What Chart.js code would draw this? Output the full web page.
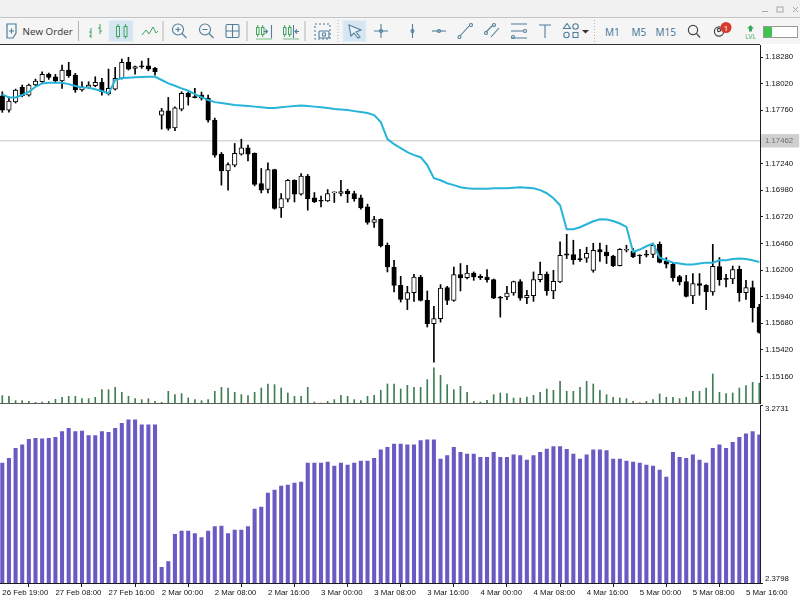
<!DOCTYPE html>
<html>
<head>
<meta charset="utf-8">
<title>EURUSD H1</title>
<script src="https://cdn.jsdelivr.net/npm/chart.js@4"></script>
<style>
html, body { margin: 0; padding: 0; width: 800px; height: 600px; overflow: hidden; background: #fff; }
#toolbar { position: absolute; left: 0; top: 0; }
#priceChart { position: absolute; left: 0; top: 44px; }
#oscChart { position: absolute; left: 0; top: 404px; }
#topLine { position: absolute; left: 0; top: 44px; width: 760px; height: 1px; background: #333; }
#paneLine { position: absolute; left: 0; top: 402.6px; width: 760px; height: 1.6px; background: #5a5f5a; }
</style>
</head>
<body>
<svg id="toolbar" width="800" height="44" font-family="'Open Sans', sans-serif">
  <rect width="800" height="44" fill="#f5f5f5"/>
  <rect width="800" height="17" fill="#f1f1f1"/>
  <rect y="17" width="800" height="1" fill="#c4c4c4"/>
  <!-- window buttons -->
  <g stroke="#a8a8a8" fill="none">
    <path d="M762 11.5h6"/>
    <rect x="777" y="7" width="6" height="5"/>
    <path d="M793 7l5 5M798 7l-5 5"/>
  </g>
  <!-- separators -->
  <g stroke="#b4b4b4">
    <path d="M78.5 21v20M163 21v20M247 21v20M305 21v20"/>
    <path d="M338 20v22M594.5 20v22" stroke-dasharray="1 2"/>
  </g>
  <!-- pressed buttons -->
  <rect x="109" y="20.5" width="24" height="21" fill="#d5e5f2" stroke="#e4eef6"/>
  <rect x="343" y="20.5" width="23" height="21" fill="#d5e5f2" stroke="#e4eef6"/>
  <!-- new order -->
  <g fill="none" stroke="#4f7f9a" stroke-width="1.2">
    <path d="M7 24h9v9l-3 5H7z"/>
    <path d="M9 31h5M11.5 28.5v5"/>
  </g>
  <text x="22.5" y="35" font-size="9.8" fill="#333">New Order</text>
  <!-- chart type buttons -->
  <g fill="none" stroke="#3ea65c" stroke-width="1">
    <path d="M91 28v10M89 32h2M89 36h2"/>
    <path d="M100 24v10M98 28h2M100 31h2"/>
    <rect x="116.5" y="26.5" width="3" height="10"/><path d="M118 24v2.5M118 36.5v2"/>
    <rect x="124" y="26.5" width="3" height="10"/><path d="M125.5 24v2.5M125.5 36.5v2"/>
    <path d="M142 35l4-5 3 4 4-7 3 6 2-2"/>
    <rect x="256.5" y="27.5" width="2.5" height="7"/><path d="M257.7 25v2.5M257.7 34.5v2.5"/>
    <rect x="261.5" y="27.5" width="2.5" height="7"/><path d="M262.7 25v2.5M262.7 34.5v2.5"/>
    <rect x="283.5" y="27.5" width="2.5" height="7"/><path d="M284.7 25v2.5M284.7 34.5v2.5"/>
    <rect x="288.5" y="27.5" width="2.5" height="7"/><path d="M289.7 25v2.5M289.7 34.5v2.5"/>
  </g>
  <g stroke="#3ea65c"><path d="M256 39h16" stroke-width="0.7"/><path d="M283 39h16" stroke-width="0.7"/></g>
  <g fill="none" stroke="#4f7f9a" stroke-width="1.1">
    <path d="M271.5 25v13M267 31.5h-3M265.5 29.5l2 2-2 2"/>
    <path d="M293.5 25v13M299 31.5h-4M297 29.5l-2 2 2 2"/>
    <circle cx="178" cy="29.5" r="5.5"/><path d="M182 33.5l4.5 4.5M175.5 29.5h5M178 27v5"/>
    <circle cx="205" cy="29.5" r="5.5"/><path d="M209 33.5l4.5 4.5M202.5 29.5h5"/>
    <rect x="226" y="24.5" width="13" height="13" rx="1.5"/><path d="M232.5 24.5v13M226 31h13"/>
    <rect x="315" y="24" width="15" height="15" stroke-dasharray="2 2"/>
    <rect x="319" y="31" width="10" height="7" rx="1"/><circle cx="324" cy="34.5" r="1.7"/>
    <path d="M349 25l12 5-5 2 4 5-2 1-4-5-3 3z" fill="#eaf3fa"/>
    <path d="M381 24v14M374 31h14"/><circle cx="381" cy="31" r="1.5"/>
    <path d="M412.5 24v14"/><circle cx="412.5" cy="31" r="1.5"/>
    <path d="M432 31h14"/><circle cx="439" cy="31" r="1.5"/>
    <path d="M460 36l9-10"/><circle cx="459.5" cy="37" r="1.5"/><circle cx="471" cy="25" r="1.5"/>
    <path d="M486 32l7-7M491 37l8-9"/><circle cx="486" cy="33" r="1.5"/><circle cx="494" cy="25" r="1.5"/>
    <path d="M511 24h16M511 31h12M511 38h16"/><circle cx="525" cy="31" r="1.5"/><circle cx="513" cy="37" r="1.5"/>
    <path d="M539 25h12M545 25v13"/>
    <path d="M567 23.5l3.5 5h-7z"/><circle cx="575.5" cy="26.5" r="2.7"/>
    <circle cx="566.5" cy="35" r="2.7"/><rect x="573" y="32.5" width="5" height="5"/>
  </g>
  <path d="M582 30h7l-3.5 3.5z" fill="#333"/>
  <g font-size="10" fill="#3d7394">
    <text x="605" y="35.5">M1</text>
    <text x="631.5" y="35.5">M5</text>
    <text x="655.5" y="35.5">M15</text>
  </g>
  <g fill="none" stroke="#444" stroke-width="1.2">
    <circle cx="693" cy="30" r="4.6"/><path d="M696.5 33.5l3.5 4"/>
    <circle cx="719" cy="31.5" r="4.6"/><circle cx="719" cy="30" r="1.6"/>
  </g>
  <circle cx="726" cy="27.5" r="5.5" fill="#d8392b"/>
  <text x="726" y="31" text-anchor="middle" font-size="8" fill="#fff">1</text>
  <path d="M750.5 25l3.5 3.5h-2v3h-3v-3h-2z" fill="#3ea65c"/>
  <text x="750.5" y="38.5" text-anchor="middle" font-size="6.5" fill="#3ea65c">LVL</text>
  <rect x="763.5" y="26.5" width="34" height="11" fill="#fff" stroke="#9a9a9a"/>
  <rect x="764" y="27" width="8" height="10" fill="#3fc24f"/>
</svg>
<canvas id="priceChart" width="800" height="360"></canvas>
<canvas id="oscChart" width="800" height="196"></canvas>
<div id="topLine"></div>
<div id="paneLine"></div>

<script>
const timeLabels = ["26 Feb 19:00", "27 Feb 08:00", "27 Feb 16:00", "2 Mar 00:00", "2 Mar 08:00",
    "2 Mar 16:00", "3 Mar 00:00", "3 Mar 08:00", "3 Mar 16:00", "4 Mar 00:00", "4 Mar 08:00",
    "4 Mar 16:00", "5 Mar 00:00", "5 Mar 08:00", "5 Mar 16:00"];
const priceTicks = [1.18280, 1.18020, 1.17760, 1.17240, 1.16980, 1.16720, 1.16460, 1.16200,
    1.15940, 1.15680, 1.15420, 1.15160];
const lastPrice = 1.17462;

const opens = [
    1.17902,1.17762,1.17843,1.17984,1.17909,1.18007,1.18039,1.18114,1.18088,1.18046,
    1.18153,1.18104,1.17958,1.17984,1.18000,1.18033,1.17919,1.17967,1.18072,1.18229,
    1.18170,1.18195,1.18195,1.18170,1.17713,1.17755,1.17589,1.17772,1.17925,1.17894,
    1.17909,1.17879,1.17664,1.17332,1.17168,1.17224,1.17332,1.17393,1.17339,1.17045,
    1.16986,1.17182,1.16806,1.16892,1.17077,1.16940,1.17117,1.16904,1.16879,1.16875,
    1.16954,1.16947,1.16970,1.16947,1.16904,1.16816,1.16664,1.16696,1.16442,1.16229,
    1.16050,1.15913,1.15979,1.16132,1.15904,1.15676,1.15725,1.16028,1.15904,1.16155,
    1.16126,1.16171,1.16138,1.16132,1.16106,1.15936,1.15936,1.15975,1.16087,1.15930,
    1.15950,1.16106,1.16158,1.15995,1.16083,1.16357,1.16351,1.16310,1.16315,1.16197,
    1.16400,1.16376,1.16337,1.16243,1.16393,1.16386,1.16344,1.16354,1.16351,1.16451,
    1.16285,1.16256,1.16136,1.16087,1.15946,1.16067,1.16050,1.15985,1.16233,1.16119,
    1.16112,1.16207,1.15979,1.16028,1.15838];
const highs = [
    1.17941,1.17889,1.17967,1.18007,1.18016,1.18065,1.18137,1.18124,1.18111,1.18202,
    1.18229,1.18121,1.18039,1.18039,1.18088,1.18072,1.18163,1.18180,1.18261,1.18278,
    1.18192,1.18241,1.18268,1.18180,1.17779,1.17886,1.17794,1.17941,1.17938,1.17974,
    1.17938,1.17909,1.17684,1.17348,1.17247,1.17436,1.17478,1.17420,1.17344,1.17192,
    1.17247,1.17185,1.16947,1.17084,1.17082,1.17143,1.17133,1.16957,1.16921,1.16986,
    1.16963,1.17077,1.16989,1.16970,1.16931,1.16843,1.16725,1.16700,1.16464,1.16295,
    1.16138,1.16041,1.16158,1.16148,1.15995,1.15845,1.16057,1.16041,1.16229,1.16263,
    1.16246,1.16181,1.16155,1.16204,1.16112,1.15943,1.16041,1.16092,1.16106,1.16002,
    1.16181,1.16278,1.16181,1.16197,1.16474,1.16549,1.16491,1.16403,1.16422,1.16461,
    1.16464,1.16442,1.16344,1.16409,1.16442,1.16412,1.16350,1.16393,1.16458,1.16474,
    1.16321,1.16272,1.16148,1.16148,1.16165,1.16165,1.16057,1.16451,1.16321,1.16158,
    1.16239,1.16239,1.16099,1.16092,1.15865];
const lows = [
    1.17740,1.17743,1.17831,1.17892,1.17899,1.18000,1.18033,1.18062,1.18039,1.17974,
    1.18082,1.17935,1.17948,1.17974,1.17990,1.17909,1.17909,1.17958,1.18065,1.18153,
    1.18114,1.18170,1.18146,1.18104,1.17576,1.17566,1.17560,1.17755,1.17811,1.17882,
    1.17860,1.17645,1.17302,1.17029,1.16980,1.17208,1.17322,1.17266,1.17022,1.16953,
    1.16953,1.16794,1.16713,1.16865,1.16865,1.16931,1.16784,1.16859,1.16816,1.16869,
    1.16859,1.16924,1.16859,1.16872,1.16794,1.16647,1.16615,1.16425,1.16181,1.15985,
    1.15887,1.15813,1.15894,1.15897,1.15643,1.15300,1.15691,1.15862,1.15894,1.15995,
    1.16112,1.16099,1.16106,1.16080,1.15920,1.15740,1.15911,1.15953,1.15904,1.15871,
    1.15894,1.16083,1.15953,1.15920,1.16077,1.16312,1.16256,1.16285,1.16275,1.16178,
    1.16285,1.16263,1.16233,1.16239,1.16376,1.16321,1.16263,1.16327,1.16321,1.16269,
    1.16220,1.16092,1.16053,1.15936,1.15871,1.15953,1.15813,1.15953,1.16050,1.16034,
    1.16067,1.15894,1.15913,1.15691,1.15584];
const closes = [
    1.17762,1.17850,1.17958,1.17902,1.18007,1.18046,1.18111,1.18082,1.18046,1.18153,
    1.18098,1.17958,1.17990,1.18007,1.18033,1.17941,1.17974,1.18072,1.18229,1.18163,
    1.18186,1.18183,1.18163,1.18137,1.17755,1.17583,1.17785,1.17925,1.17892,1.17884,
    1.17879,1.17664,1.17322,1.17168,1.17231,1.17339,1.17393,1.17332,1.17035,1.16980,
    1.17182,1.16801,1.16898,1.17077,1.16940,1.17117,1.16898,1.16865,1.16872,1.16947,
    1.16960,1.16967,1.16943,1.16898,1.16806,1.16664,1.16693,1.16435,1.16229,1.16050,
    1.15913,1.15979,1.16132,1.15904,1.15676,1.15725,1.16024,1.15904,1.16155,1.16122,
    1.16171,1.16132,1.16124,1.16106,1.15926,1.15926,1.15975,1.16087,1.15926,1.15953,
    1.16106,1.16158,1.15995,1.16090,1.16344,1.16344,1.16302,1.16302,1.16363,1.16393,
    1.16376,1.16337,1.16239,1.16403,1.16403,1.16327,1.16337,1.16344,1.16442,1.16275,
    1.16256,1.16126,1.16083,1.15943,1.16067,1.16050,1.15985,1.16236,1.16106,1.16109,
    1.16204,1.15979,1.16028,1.15832,1.15590];
const movingAvg = [
    1.17916,1.17886,1.17886,1.17909,1.17941,1.17990,1.18023,1.18029,1.18029,1.18029,
    1.18016,1.17997,1.17984,1.17980,1.17965,1.17948,1.17925,1.18056,1.18075,1.18078,
    1.18082,1.18085,1.18088,1.18088,1.18056,1.18023,1.18000,1.17974,1.17951,1.17919,
    1.17889,1.17860,1.17840,1.17831,1.17821,1.17811,1.17806,1.17801,1.17796,1.17791,
    1.17782,1.17782,1.17791,1.17796,1.17801,1.17806,1.17801,1.17796,1.17791,1.17782,
    1.17772,1.17767,1.17762,1.17752,1.17743,1.17733,1.17713,1.17645,1.17478,1.17430,
    1.17390,1.17351,1.17322,1.17302,1.17224,1.17097,1.17077,1.17048,1.17029,1.17009,
    1.16999,1.16994,1.16994,1.16994,1.16999,1.16999,1.16999,1.17004,1.17009,1.17004,
    1.16999,1.16980,1.16950,1.16901,1.16833,1.16598,1.16598,1.16618,1.16647,1.16676,
    1.16696,1.16693,1.16679,1.16654,1.16621,1.16376,1.16400,1.16432,1.16458,1.16321,
    1.16295,1.16272,1.16263,1.16253,1.16253,1.16263,1.16272,1.16272,1.16295,1.16295,
    1.16308,1.16312,1.16308,1.16295,1.16278];
const volumes = [
    1250,1150,500,500,400,250,300,400,700,1000,
    1150,1150,800,800,1000,2150,2150,2500,1750,1150,
    800,650,800,400,250,1900,1400,1550,900,650,
    500,650,1900,2500,2400,1750,1400,1250,1750,2400,
    3000,2900,2400,1650,1150,1150,2500,300,150,400,
    650,1300,1150,650,500,1150,1300,2050,3000,3000,
    2250,2800,2500,2500,3650,5400,4300,2900,2150,2650,
    1750,400,300,550,1400,1650,1550,900,900,1050,
    1300,1750,2250,2050,3400,1900,1900,2500,3400,3000,
    2050,1400,1000,900,800,400,200,400,650,1500,
    1000,1000,800,1000,1900,1900,2400,4500,1750,1550,
    1650,2400,2750,3250,3150];
const oscValues = [
    2.9822,3.0058,3.0560,3.0726,3.1012,3.1062,3.1027,3.1062,3.1112,3.1393,
    3.1564,3.1393,3.1428,3.1192,3.1192,3.1393,3.1363,3.1564,3.1815,3.1981,
    3.1981,3.1730,3.1730,3.1730,2.4586,2.4867,2.6243,2.6408,2.6408,2.6273,
    2.6072,2.6408,2.6624,2.6659,2.6273,2.6459,2.6459,2.6624,2.7513,2.7613,
    2.8316,2.8467,2.8667,2.8718,2.8818,2.8868,2.9822,2.9822,2.9822,2.9872,
    2.9671,2.9822,2.9722,2.9822,2.9922,2.9922,3.0058,3.0475,3.0610,3.0776,
    3.0776,3.0726,3.0726,3.0941,3.0977,3.0977,3.0023,3.0188,3.0610,3.0359,
    3.0274,3.0274,3.0108,3.0108,3.0359,3.0108,3.0108,3.0224,3.0188,2.9973,
    3.0188,3.0359,3.0525,3.0640,3.0640,3.0510,3.0274,3.0023,3.0224,3.0475,
    3.0475,3.0439,3.0023,3.0023,2.9922,2.9872,2.9822,2.9722,2.9671,2.9471,
    2.9119,3.0359,3.0108,3.0058,3.0224,2.9973,2.9822,3.0560,3.0726,3.0560,
    3.0861,3.1112,3.1278,3.1393,3.1228];

const PRICE_MIN = 1.14891, PRICE_MAX = 1.18398;
const VOLUME_MAX = 53775;
const OSC_MIN = 2.3798, OSC_MAX = 3.2731;
const X_MIN = -0.346, X_MAX = 114.11;
const BARS_PER_LABEL = 8;
const LABEL_FONT = { family: "'Liberation Sans'", size: 7.8 };
const AXIS_INK = "#1c1c1c";
const TEXT_INK = "#111111";
const CANDLE_DOWN = "#000000", CANDLE_UP = "#ffffff";

Chart.defaults.animation = false;

function byBar(values) {
    return values.map((y, i) => ({ x: i, y }));
}

// the panes butt against each other, so axes must not ask for label margins
function noMargins() {
    return { left: 0, top: 0, right: 0, bottom: 0 };
}

function fixedAxisWidth(axis) {
    axis.width = 40;
    axis.getPadding = noMargins;
}

// candle wicks sit under the bodies, the average line goes on top of both
const candleColors = closes.map((c, i) => (c >= opens[i] ? CANDLE_UP : CANDLE_DOWN));
const priceChart = new Chart(document.getElementById("priceChart"), {
    data: {
        datasets: [
            { type: "line", label: "Moving average", data: byBar(movingAvg), borderColor: "#27b4d8",
              borderWidth: 2, pointRadius: 0, order: 0, yAxisID: "y" },
            { type: "bar", label: "Body", data: byBar(opens.map((o, i) => [o, closes[i]])), barThickness: 4.6,
              grouped: false, minBarLength: 1, backgroundColor: candleColors, borderColor: "#000000",
              borderWidth: 1, borderSkipped: false, order: 1, yAxisID: "y" },
            { type: "bar", label: "Wick", data: byBar(lows.map((l, i) => [l, highs[i]])), barThickness: 1,
              grouped: false, backgroundColor: "#000000", order: 2, yAxisID: "y" },
            { type: "line", label: "Last", data: [{ x: X_MIN, y: lastPrice }, { x: X_MAX, y: lastPrice }],
              borderColor: "#c6c6c6", borderWidth: 1, pointRadius: 0, order: 3, yAxisID: "y" },
            { type: "bar", label: "Volume", data: byBar(volumes), barThickness: 1, grouped: false,
              backgroundColor: "#3f7d52", order: 4, yAxisID: "yVol" }
        ]
    },
    options: {
        responsive: false,
        layout: { autoPadding: false, padding: { top: 1 } },
        plugins: { legend: { display: false }, tooltip: { enabled: false } },
        scales: {
            x: { type: "linear", min: X_MIN, max: X_MAX, offset: false, display: false },
            yVol: { axis: "y", type: "linear", min: 0, max: VOLUME_MAX, display: false },
            y: {
                position: "right", min: PRICE_MIN, max: PRICE_MAX,
                afterFit: fixedAxisWidth,
                afterBuildTicks(axis) {
                    axis.ticks = priceTicks.concat(lastPrice).map(value => ({ value }));
                },
                border: { display: true, color: AXIS_INK, width: 1 },
                grid: { drawOnChartArea: false, drawTicks: true, tickLength: 3, color: AXIS_INK },
                ticks: {
                    autoSkip: false, padding: 2, font: LABEL_FONT,
                    color: ctx => (ctx.tick.value === lastPrice ? "#707070" : TEXT_INK),
                    showLabelBackdrop: ctx => ctx.tick.value === lastPrice,
                    backdropColor: "#cfcfcf",
                    backdropPadding: { top: 2, bottom: 2, left: 4, right: 6 },
                    callback: value => value.toFixed(5)
                }
            }
        }
    }
});

// the oscillator pane labels its two bounds inside the pane height
const boundLabels = {
    id: "boundLabels",
    afterDraw(chart) {
        const axis = chart.scales.y, ctx = chart.ctx;
        ctx.save();
        ctx.font = LABEL_FONT.size + "px " + LABEL_FONT.family;
        ctx.fillStyle = TEXT_INK;
        ctx.textBaseline = "middle";
        ctx.fillText(OSC_MAX.toFixed(4), axis.left + 5, axis.getPixelForValue(OSC_MAX) + 4);
        ctx.fillText(OSC_MIN.toFixed(4), axis.left + 5, axis.getPixelForValue(OSC_MIN) - 4);
        ctx.restore();
    }
};

const oscChart = new Chart(document.getElementById("oscChart"), {
    type: "bar",
    data: {
        datasets: [
            { label: "Indicator", data: byBar(oscValues), barThickness: 3.4, backgroundColor: "#6a5bc4" }
        ]
    },
    options: {
        responsive: false,
        layout: { autoPadding: false, padding: { top: 1 } },
        plugins: { legend: { display: false }, tooltip: { enabled: false } },
        scales: {
            x: {
                type: "linear", min: X_MIN, max: X_MAX, offset: false,
                afterFit(axis) { axis.height = 17; axis.getPadding = noMargins; },
                afterBuildTicks(axis) {
                    axis.ticks = timeLabels.map((_, k) => ({ value: k * BARS_PER_LABEL }));
                },
                border: { display: true, color: AXIS_INK, width: 1 },
                grid: { drawOnChartArea: false, drawTicks: true, tickLength: 4, color: AXIS_INK },
                ticks: {
                    autoSkip: false, maxRotation: 0, align: "start", padding: 1, font: LABEL_FONT, color: TEXT_INK,
                    callback: value => timeLabels[value / BARS_PER_LABEL]
                }
            },
            y: {
                position: "right", min: OSC_MIN, max: OSC_MAX,
                afterFit: fixedAxisWidth,
                afterBuildTicks(axis) {
                    axis.ticks = [OSC_MAX, OSC_MIN].map(value => ({ value }));
                },
                border: { display: true, color: AXIS_INK, width: 1 },
                grid: { drawOnChartArea: false, drawTicks: true, tickLength: 3, color: AXIS_INK },
                ticks: { display: false }
            }
        }
    },
    plugins: [boundLabels]
});
</script>
</body>
</html>
